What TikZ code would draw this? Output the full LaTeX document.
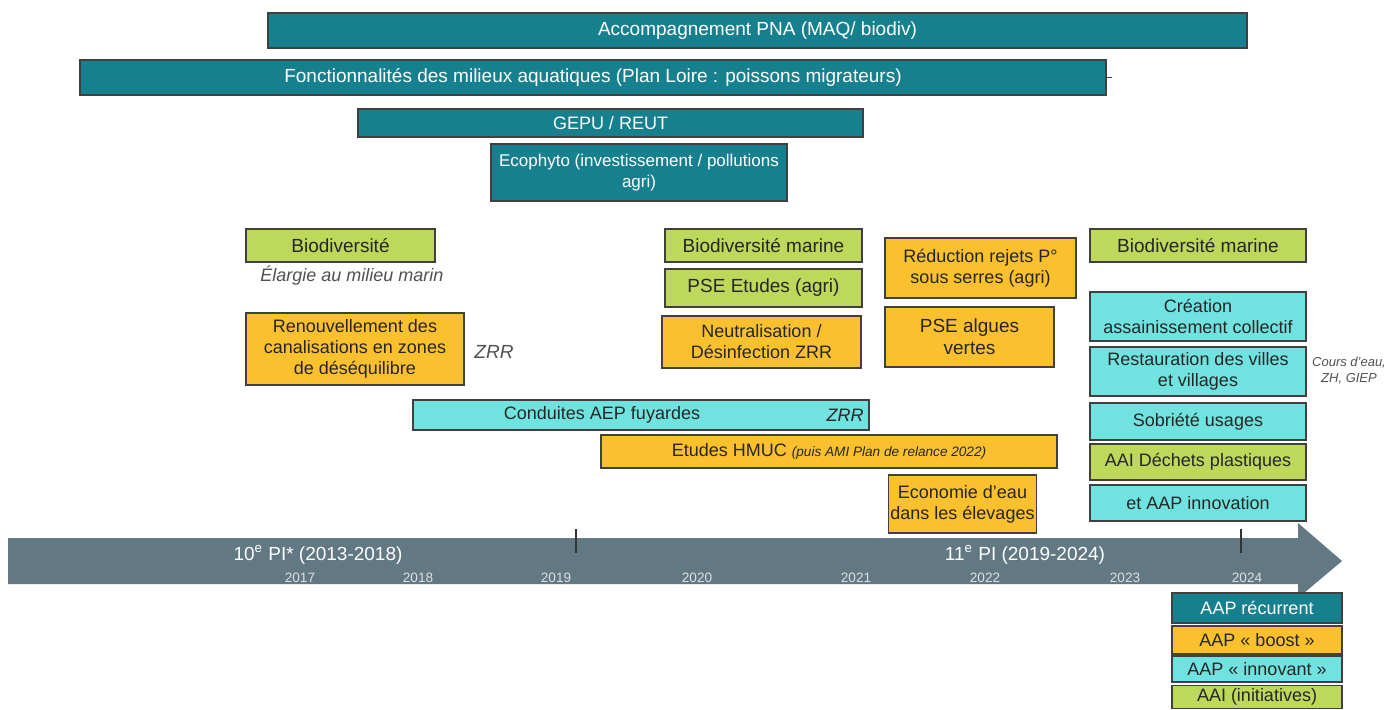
\documentclass[tikz,border=0pt]{standalone}
\usepackage{fontspec}
\setmainfont{Liberation Sans}
\usepackage{tikz}

\definecolor{tealbar}{RGB}{22,128,143}
\definecolor{greenbox}{RGB}{190,216,92}
\definecolor{orangebox}{RGB}{251,192,45}
\definecolor{cyanbox}{RGB}{112,227,224}
\definecolor{arrowgray}{RGB}{98,120,130}
\definecolor{notegray}{RGB}{80,80,80}
\definecolor{boxtext}{RGB}{38,38,38}

\begin{document}
\begin{tikzpicture}[x=0.5pt,y=-0.5pt,inner sep=1pt,align=center,
	box/.style={draw=black!75,line width=0.6pt,text=boxtext,font=\fontsize{9.5}{11}\selectfont},
	bar/.style={box,fill=tealbar,text=white},
	green/.style={box,fill=greenbox},
	orange/.style={box,fill=orangebox},
	cyan/.style={box,fill=cyanbox},
	note/.style={text=notegray,font=\fontsize{9}{10.5}\selectfont\itshape},
	yr/.style={text=black!12,font=\fontsize{6.8}{8}\selectfont},
	pilabel/.style={text=white,font=\fontsize{9.5}{11}\selectfont}]
	\useasboundingbox (0,0) rectangle (1386,709);
	\node [bar,minimum width=489.5pt,minimum height=17.5pt] (pna) at (757.5,30.5) {Accompagnement PNA (MAQ/ biodiv)};
	\node [bar,minimum width=513pt,minimum height=17.5pt] (fonct) at (593,77.5) {Fonctionnalités des milieux aquatiques (Plan Loire : poissons migrateurs)};
	\draw [black!75] (fonct.east) -- ++(5,0);
	\node [bar,minimum width=252.5pt,minimum height=14pt,font=\fontsize{9}{10.5}\selectfont] (gepu) at (610.5,123) {GEPU / REUT};
	\node [bar,minimum width=148pt,minimum height=28.5pt,font=\fontsize{8.5}{10.5}\selectfont] (ecophyto) at (639,172.5) {Ecophyto (investissement / pollutions\\agri)};

	\node [green,minimum width=94.5pt,minimum height=16.5pt] (biodiv) at (340.5,245.5) {Biodiversité};
	\node [note] (elargie) at (352,276) {Élargie au milieu marin};
	\node [orange,minimum width=109pt,minimum height=36pt,font=\fontsize{9}{10.5}\selectfont] (renouv) at (355,349) {Renouvellement des\\canalisations en zones\\de déséquilibre};
	\node [note,font=\fontsize{9.5}{11}\selectfont\itshape] (zrr1) at (494,352) {ZRR};

	\node [green,minimum width=98.5pt,minimum height=16.5pt] (biomar) at (763.5,245.5) {Biodiversité marine};
	\node [green,minimum width=98.5pt,minimum height=19pt] (pseetudes) at (763.5,288) {PSE Etudes (agri)};
	\node [orange,minimum width=99.5pt,minimum height=26pt,font=\fontsize{9}{10.5}\selectfont] (neutral) at (761.5,342) {Neutralisation /\\Désinfection ZRR};

	\node [orange,minimum width=95.5pt,minimum height=30pt,font=\fontsize{9}{10.5}\selectfont] (reduc) at (980.5,268) {Réduction rejets P°\\sous serres (agri)};
	\node [orange,minimum width=84.5pt,minimum height=30pt] (psealg) at (969.5,337) {PSE algues\\vertes};

	\node [green,minimum width=108pt,minimum height=16.5pt] (biomarb) at (1198,245.5) {Biodiversité marine};
	\node [cyan,minimum width=108pt,minimum height=24.5pt,font=\fontsize{9}{10.5}\selectfont] (creation) at (1198,316.5) {Création\\assainissement collectif};
	\node [cyan,minimum width=108pt,minimum height=24.5pt,font=\fontsize{9}{10.5}\selectfont] (restau) at (1198,371.5) {Restauration des villes\\et villages};
	\node [note,font=\fontsize{6.5}{8}\selectfont\itshape] (coursdeau) at (1349,371) {Cours d’eau,\\ZH, GIEP};
	\node [cyan,minimum width=108pt,minimum height=18.5pt,font=\fontsize{9}{10.5}\selectfont] (sobriete) at (1198,421.5) {Sobriété usages};
	\node [green,minimum width=108pt,minimum height=18pt,font=\fontsize{9}{10.5}\selectfont] (dechets) at (1198,462) {AAI Déchets plastiques};
	\node [cyan,minimum width=108pt,minimum height=18pt,font=\fontsize{9}{10.5}\selectfont] (innov) at (1198,503) {et AAP innovation};

	\node [cyan,minimum width=228pt,minimum height=15pt] (conduites) at (641,415) {};
	\node [text=boxtext,font=\fontsize{9}{10.5}\selectfont] (conduitestxt) at (602,415) {Conduites AEP fuyardes};
	\node [text=boxtext,font=\fontsize{9}{10.5}\selectfont\itshape,anchor=east] (zrr2) at (866,415) {ZRR};
	\node [orange,minimum width=228pt,minimum height=16.5pt,font=\fontsize{9}{10.5}\selectfont] (hmuc) at (829,451.5) {Etudes HMUC {\fontsize{6.8}{8}\selectfont\itshape (puis AMI Plan de relance 2022)}};
	\node [orange,minimum width=69.5pt,minimum height=29pt,font=\fontsize{9}{10.5}\selectfont] (economie) at (962.5,504) {Economie d’eau\\dans les élevages};

	\fill [arrowgray] (8,538) -- (1298,538) -- (1298,523) -- (1342,561) -- (1298,598) -- (1298,584) -- (8,584) -- cycle;
	\draw [black!80,line width=0.8pt] (576,529) -- (576,553);
	\draw [black!80,line width=0.8pt] (1241,529) -- (1241,553);
	\node [pilabel] (pi10) at (318,555) {10\textsuperscript{e} PI* (2013-2018)};
	\node [pilabel] (pi11) at (1025,555) {11\textsuperscript{e} PI (2019-2024)};
	\foreach \yy/\xx in {2017/300,2018/418,2019/556,2020/697,2021/856,2022/985,2023/1125,2024/1247}
		\node [yr] (y\yy) at (\xx,578) {\yy};

	\node [bar,minimum width=85pt,minimum height=15pt,font=\fontsize{9}{10.5}\selectfont] (legrec) at (1257,608) {AAP récurrent};
	\node [orange,minimum width=85pt,minimum height=14pt,font=\fontsize{9}{10.5}\selectfont] (legboost) at (1257,640) {AAP « boost »};
	\node [cyan,minimum width=85pt,minimum height=13pt,font=\fontsize{9}{10.5}\selectfont] (leginnov) at (1257,669) {AAP « innovant »};
	\node [green,minimum width=85pt,minimum height=11.5pt,font=\fontsize{9}{10.5}\selectfont] (legaai) at (1257,697) {AAI (initiatives)};
\end{tikzpicture}
\end{document}
